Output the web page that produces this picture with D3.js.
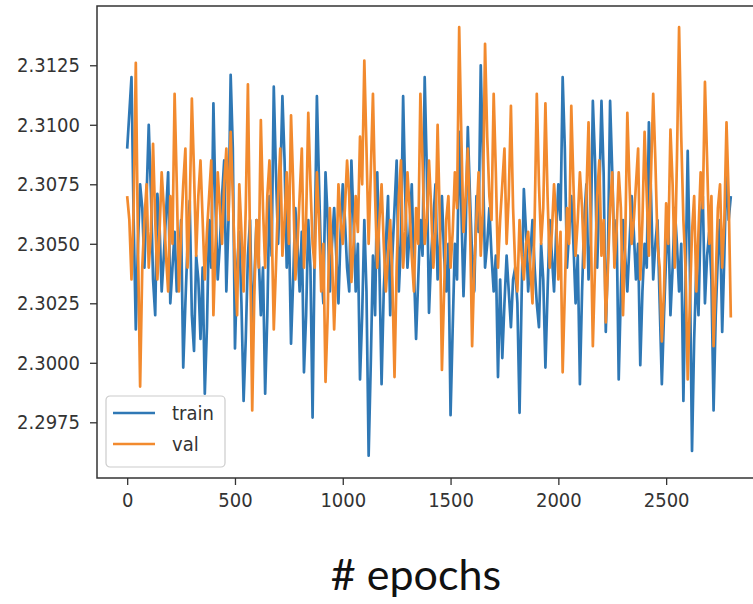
<!DOCTYPE html>
<html>
<head>
<meta charset="utf-8">
<style>
    body { margin: 0; background: #fff; }
    .tick text { font-family: "DejaVu Sans Condensed", "DejaVu Sans", sans-serif; font-stretch: condensed; font-size: 20px; fill: #333; }
    .domain, .tick line { stroke: #333; }
    .train { fill: none; stroke: #2f78b5; stroke-width: 2.7; stroke-linejoin: round }
    .val { fill: none; stroke: #f28a2e; stroke-width: 2.7; stroke-linejoin: round }
</style>
</head>
<body>
<svg id="container" width="753" height="604"></svg>
<script src="https://cdn.jsdelivr.net/npm/d3@7"></script>
<script>
// one logged point every 10 epochs
const step = 10

const trainLoss = [
    2.3090, 2.3105, 2.3120, 2.3060, 2.3014, 2.3050, 2.3075, 2.3065, 2.3040, 2.3070,
    2.3100, 2.3072, 2.3035, 2.3020, 2.3071, 2.3058, 2.3030, 2.3045, 2.3062, 2.3080,
    2.3025, 2.3040, 2.3055, 2.3030, 2.3040, 2.3060, 2.2998, 2.3025, 2.3050, 2.3068,
    2.3020, 2.3005, 2.3045, 2.3035, 2.3010, 2.3040, 2.2987, 2.3015, 2.3060, 2.3040,
    2.3109, 2.3065, 2.3035, 2.3050, 2.3070, 2.3085, 2.3030, 2.3060, 2.3121, 2.3090,
    2.3006, 2.3040, 2.3055, 2.3025, 2.2984, 2.3010, 2.3045, 2.3060, 2.3015, 2.3035,
    2.3060, 2.3045, 2.3020, 2.3040, 2.2987, 2.3020, 2.3070, 2.3045, 2.3116, 2.3080,
    2.3050, 2.3075, 2.3112, 2.3085, 2.3040, 2.3060, 2.3008, 2.3035, 2.3065, 2.3050,
    2.3030, 2.3055, 2.2996, 2.3020, 2.3060, 2.3040, 2.2977, 2.3050, 2.3112, 2.3075,
    2.3040, 2.3025, 2.3080, 2.3060, 2.3030, 2.3050, 2.3065, 2.3045, 2.3025, 2.3055,
    2.3075, 2.3060, 2.3040, 2.3030, 2.3085, 2.3060, 2.3030, 2.3050, 2.2993, 2.3020,
    2.3060, 2.3030, 2.2961, 2.3000, 2.3045, 2.3020, 2.3080, 2.3040, 2.2991, 2.3030,
    2.3050, 2.3070, 2.3020, 2.3045, 2.3065, 2.3085, 2.3030, 2.3050, 2.3112, 2.3070,
    2.3040, 2.3055, 2.3075, 2.3040, 2.3010, 2.3035, 2.3060, 2.3045, 2.3120, 2.3080,
    2.3021, 2.3045, 2.3060, 2.3075, 2.3035, 2.3050, 2.3070, 2.3045, 2.3030, 2.3050,
    2.2978, 2.3015, 2.3050, 2.3035, 2.3097, 2.3065, 2.3028, 2.3055, 2.3099, 2.3070,
    2.3045, 2.3030, 2.3070, 2.3055, 2.3125, 2.3085, 2.3040, 2.3050, 2.3065, 2.3045,
    2.3030, 2.3045, 2.2994, 2.3035, 2.3002, 2.3025, 2.3045, 2.3030, 2.3015, 2.3035,
    2.3040, 2.3025, 2.2979, 2.3030, 2.3073, 2.3055, 2.3030, 2.3045, 2.3060, 2.3040,
    2.3025, 2.3015, 2.3050, 2.3035, 2.2998, 2.3030, 2.3060, 2.3045, 2.3030, 2.3055,
    2.3075, 2.3060, 2.3120, 2.3090, 2.3040, 2.3055, 2.3070, 2.3050, 2.3025, 2.3045,
    2.2991, 2.3030, 2.3060, 2.3075, 2.3035, 2.3050, 2.3110, 2.3085, 2.3040, 2.3070,
    2.3110, 2.3080, 2.3013, 2.3045, 2.3110, 2.3080, 2.3045, 2.3060, 2.2993, 2.3030,
    2.3060, 2.3045, 2.3030, 2.3050, 2.3070, 2.3055, 2.3035, 2.3050, 2.2999, 2.3030,
    2.3050, 2.3040, 2.3101, 2.3070, 2.3035, 2.3050, 2.3060, 2.3025, 2.2991, 2.3020,
    2.3045, 2.3060, 2.3020, 2.3040, 2.3065, 2.3050, 2.3030, 2.3050, 2.2984, 2.3035,
    2.3089, 2.3040, 2.2963, 2.3010, 2.3040, 2.3020, 2.3060, 2.3070, 2.3025, 2.3045,
    2.3055, 2.3035, 2.2980, 2.3020, 2.3045, 2.3060, 2.3013, 2.3045, 2.3085, 2.3060,
    2.3070
]

const valLoss = [
    2.3070, 2.3060, 2.3035, 2.3065, 2.3126, 2.3050, 2.2990, 2.3040, 2.3060, 2.3075,
    2.3040, 2.3055, 2.3092, 2.3060, 2.3035, 2.3055, 2.3080, 2.3065, 2.3045, 2.3030,
    2.3070, 2.3050, 2.3113, 2.3075, 2.3030, 2.3055, 2.3075, 2.3090, 2.3040, 2.3065,
    2.3111, 2.3080, 2.3045, 2.3070, 2.3085, 2.3060, 2.3035, 2.3055, 2.3070, 2.3085,
    2.3020, 2.3050, 2.3080, 2.3065, 2.3050, 2.3075, 2.3090, 2.3060, 2.3097, 2.3070,
    2.3040, 2.3020, 2.3075, 2.3055, 2.3030, 2.3065, 2.3117, 2.3050, 2.2980, 2.3030,
    2.3060, 2.3040, 2.3102, 2.3065, 2.3040, 2.3070, 2.3085, 2.3060, 2.3014, 2.3040,
    2.3070, 2.3090, 2.3045, 2.3060, 2.3080, 2.3050, 2.3104, 2.3075, 2.3035, 2.3050,
    2.3070, 2.3090, 2.3040, 2.3060, 2.3105, 2.3075, 2.3050, 2.3040, 2.3080, 2.3060,
    2.3030, 2.3050, 2.2992, 2.3020, 2.3065, 2.3045, 2.3014, 2.3040, 2.3075, 2.3060,
    2.3050, 2.3065, 2.3085, 2.3070, 2.3034, 2.3050, 2.3070, 2.3055, 2.3095, 2.3075,
    2.3127, 2.3090, 2.3050, 2.3080, 2.3113, 2.3070, 2.3040, 2.3060, 2.3075, 2.3050,
    2.3030, 2.3045, 2.3060, 2.3035, 2.2994, 2.3040, 2.3070, 2.3085, 2.3040, 2.3055,
    2.3080, 2.3065, 2.3045, 2.3030, 2.3065, 2.3050, 2.3113, 2.3085, 2.3050, 2.3060,
    2.3085, 2.3065, 2.3040, 2.3055, 2.3100, 2.3060, 2.2997, 2.3030, 2.3060, 2.3070,
    2.3040, 2.3055, 2.3080, 2.3065, 2.3141, 2.3095, 2.3055, 2.3070, 2.3090, 2.3060,
    2.3007, 2.3040, 2.3060, 2.3080, 2.3045, 2.3065, 2.3134, 2.3095, 2.3070, 2.3060,
    2.3113, 2.3080, 2.3040, 2.3060, 2.3075, 2.3090, 2.3050, 2.3070, 2.3108, 2.3065,
    2.3040, 2.3030, 2.3060, 2.3045, 2.3035, 2.3050, 2.3055, 2.3040, 2.3025, 2.3060,
    2.3113, 2.3075, 2.3050, 2.3065, 2.3109, 2.3070, 2.3040, 2.3055, 2.3075, 2.3060,
    2.3035, 2.3055, 2.2996, 2.3030, 2.3065, 2.3050, 2.3108, 2.3075, 2.3045, 2.3060,
    2.3080, 2.3065, 2.3040, 2.3070, 2.3101, 2.3060, 2.3007, 2.3040, 2.3070, 2.3085,
    2.3045, 2.3060, 2.3017, 2.3040, 2.3065, 2.3080, 2.3040, 2.3055, 2.3080, 2.3065,
    2.3020, 2.3050, 2.3105, 2.3075, 2.3050, 2.3060, 2.3075, 2.3090, 2.3035, 2.3060,
    2.3097, 2.3070, 2.3045, 2.3080, 2.3113, 2.3085, 2.3050, 2.3040, 2.3009, 2.3030,
    2.3067, 2.3050, 2.3098, 2.3075, 2.3040, 2.3085, 2.3141, 2.3095, 2.3060, 2.3040,
    2.2993, 2.3025, 2.3055, 2.3070, 2.3030, 2.3055, 2.3080, 2.3065, 2.3118, 2.3085,
    2.3050, 2.3070, 2.3007, 2.3035, 2.3065, 2.3075, 2.3040, 2.3060, 2.3101, 2.3070,
    2.3019
]

const seriesNames = ["train", "val"]
const xTicks = [0, 500, 1000, 1500, 2000, 2500]
const yTicks = [2.2975, 2.3000, 2.3025, 2.3050, 2.3075, 2.3100, 2.3125]
const xLabel = "# epochs"

const svg = d3.select("#container")
const plotLeft = 97, plotTop = 6, plotRight = 761, plotBottom = 478

let xScale = d3.scaleLinear().domain([-140, 2940]).range([plotLeft, plotRight])
let yScale = d3.scaleLinear().domain([2.29516, 2.31499]).range([plotBottom, plotTop])

svg.append("defs").append("clipPath").attr("id", "plotArea")
    .append("rect")
    .attr("x", plotLeft).attr("y", plotTop)
    .attr("width", plotRight - plotLeft).attr("height", plotBottom - plotTop)

let line = d3.line()
    .x((d, i) => xScale(i * step))
    .y(d => yScale(d))

let plot = svg.append("g").attr("clip-path", "url(#plotArea)")
plot.append("path").datum(trainLoss).attr("class", "train").attr("d", line)
plot.append("path").datum(valLoss).attr("class", "val").attr("d", line)

// frame
svg.append("rect")
    .attr("x", plotLeft).attr("y", plotTop)
    .attr("width", plotRight - plotLeft).attr("height", plotBottom - plotTop)
    .attr("fill", "none").attr("stroke", "#333").attr("stroke-width", 1.5)

svg.append("g")
    .attr("transform", "translate(" + plotLeft + ",0)")
    .call(d3.axisLeft(yScale).tickValues(yTicks).tickFormat(d3.format(".4f"))
          .tickSize(7).tickPadding(10).tickSizeOuter(0))
svg.append("g")
    .attr("transform", "translate(0," + plotBottom + ")")
    .call(d3.axisBottom(xScale).tickValues(xTicks).tickFormat(d3.format("d"))
          .tickSize(7).tickPadding(8).tickSizeOuter(0))
svg.selectAll(".domain").remove()
svg.selectAll(".tick line").attr("stroke-width", 1.3)

// legend
let legend = svg.append("g").attr("transform", "translate(106,396)")
legend.append("rect")
    .attr("width", 119).attr("height", 71).attr("rx", 4)
    .attr("fill", "#fff").attr("fill-opacity", 0.85)
    .attr("stroke", "#ccc").attr("stroke-width", 1.2)
let colors = d3.scaleOrdinal().domain(seriesNames).range(["#2f78b5", "#f28a2e"])
let entry = legend.selectAll(".entry").data(seriesNames).enter().append("g")
    .attr("transform", (d, i) => "translate(0," + (17 + i * 31) + ")")
entry.append("line")
    .attr("x1", 7).attr("x2", 49)
    .attr("stroke", d => colors(d)).attr("stroke-width", 2.7)
entry.append("text")
    .attr("x", 66).attr("dy", "0.35em")
    .style("font-family", "'DejaVu Sans Condensed', 'DejaVu Sans', sans-serif")
    .style("font-stretch", "condensed")
    .style("font-size", "20px").attr("fill", "#333")
    .text(d => d)

svg.append("text")
    .attr("x", 416).attr("y", 590)
    .attr("text-anchor", "middle")
    .style("font-family", "Lato, 'Open Sans', sans-serif")
    .style("font-size", "43px").attr("fill", "#111")
    .text(xLabel)
</script>
</body>
</html>
